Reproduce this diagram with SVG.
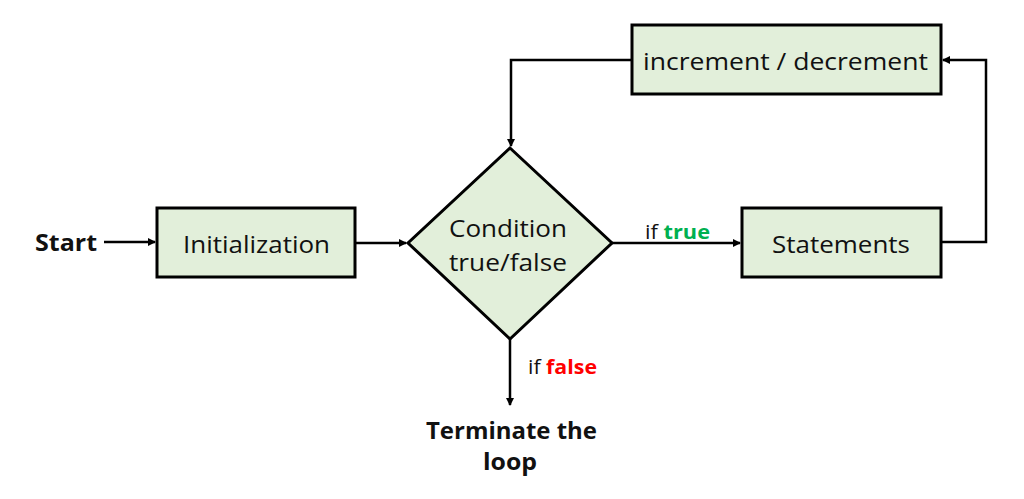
<svg xmlns="http://www.w3.org/2000/svg" width="1024" height="499" viewBox="0 0 1024 499">
<style>
.box{fill:#E2EFDA;stroke:#000;stroke-width:3}
.t{font-family:"Open Sans","Liberation Sans",sans-serif;font-size:24px;fill:#111}
.b{font-family:"Open Sans","Liberation Sans",sans-serif;font-size:24px;font-weight:bold;fill:#111}
.s{font-family:"Open Sans","Liberation Sans",sans-serif;font-size:20px;fill:#111}
.line{fill:none;stroke:#000;stroke-width:2.5}
</style>
<defs>
<marker id="ah" markerWidth="8" markerHeight="8" refX="7" refY="4" orient="auto" markerUnits="userSpaceOnUse">
<path d="M0,0 L8,4 L0,8 Z" fill="#000"/>
</marker>
</defs>
<rect width="1024" height="499" fill="#fff"/>
<g id="start"><text class="b" x="35" y="251" textLength="62" lengthAdjust="spacingAndGlyphs">Start</text></g>
<g id="init"><rect class="box" x="157" y="208" width="198" height="69"/><text class="t" x="183" y="253" textLength="147" lengthAdjust="spacingAndGlyphs">Initialization</text></g>
<g id="cond"><polygon class="box" points="510,148 612,243 510,339 408,243"/><text class="t" x="449" y="237" textLength="118" lengthAdjust="spacingAndGlyphs">Condition</text><text class="t" x="449" y="271" textLength="118" lengthAdjust="spacingAndGlyphs">true/false</text></g>
<g id="stmts"><rect class="box" x="742" y="208" width="199" height="69"/><text class="t" x="772" y="253" textLength="138" lengthAdjust="spacingAndGlyphs">Statements</text></g>
<g id="incdec"><rect class="box" x="632" y="25" width="309" height="69"/><text class="t" x="643" y="70" textLength="285" lengthAdjust="spacingAndGlyphs">increment / decrement</text></g>
<g id="term"><text class="b" x="426" y="439" textLength="171" lengthAdjust="spacingAndGlyphs">Terminate the</text><text class="b" x="483" y="470" textLength="54" lengthAdjust="spacingAndGlyphs">loop</text></g>
<g id="connectors">
<line class="line" x1="104" y1="242" x2="155" y2="242" marker-end="url(#ah)"/>
<line class="line" x1="355" y1="243" x2="406" y2="243" marker-end="url(#ah)"/>
<line class="line" x1="612" y1="243" x2="740" y2="243" marker-end="url(#ah)"/>
<polyline class="line" points="941,242 986,242 986,60 943,60" marker-end="url(#ah)"/>
<polyline class="line" points="632,60 511,60 511,146" marker-end="url(#ah)"/>
<line class="line" x1="510" y1="339" x2="510" y2="405" marker-end="url(#ah)"/>
<text class="s" x="645" y="239" textLength="65" lengthAdjust="spacingAndGlyphs">if <tspan font-weight="bold" fill="#00B050">true</tspan></text>
<text class="s" x="528" y="374" textLength="69" lengthAdjust="spacingAndGlyphs">if <tspan font-weight="bold" fill="#FF0000">false</tspan></text>
</g>
</svg>
